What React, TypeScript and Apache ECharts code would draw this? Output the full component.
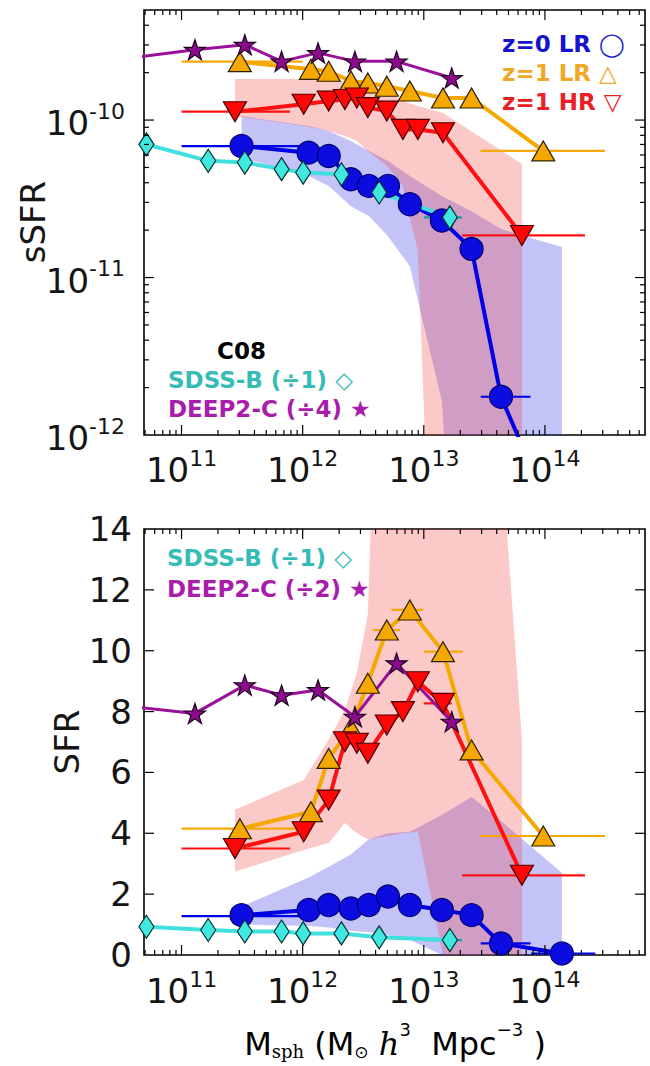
import React, { useEffect, useRef } from 'react';
import * as echarts from 'echarts';

const FONT = 'DejaVu Sans';
const SERIF = 'DejaVu Serif';

// ---- axis ranges & ticks ----
const X_MIN = 4.9e10;
const X_MAX = 6.7e14;
const SSFR_MIN = 1e-12;
const SSFR_MAX = 5e-10;
const SFR_MIN = 0;
const SFR_MAX = 14;
const xDecades = [10, 11, 12, 13, 14];
const ssfrDecades = [-12, -11, -10];
const sfrTicks = [0, 2, 4, 6, 8, 10, 12, 14];
const minorMult = [1, 2, 3, 4, 5, 6, 7, 8, 9];

// ---- z=0 LR (blue circles) ----
const lr0X = [3.13e11, 1.12e12, 1.64e12, 2.5e12, 3.52e12, 5.06e12, 7.67e12, 1.41e13, 2.48e13, 4.34e13, 1.38e14];
const lr0SSFR = [6.84e-11, 6.21e-11, 5.92e-11, 4.21e-11, 3.82e-11, 3.82e-11, 2.92e-11, 2.3e-11, 1.52e-11, 1.75e-12, 2.2e-13];
const lr0SFR = [1.31, 1.48, 1.64, 1.53, 1.64, 1.92, 1.64, 1.48, 1.31, 0.38, 0.05];
const lr0SSFRHi = [1.06e-10, 9.16e-11, 8.51e-11, 7.36e-11, 6.36e-11, 5.49e-11, 4.41e-11, 3.29e-11, 2.64e-11, 2.03e-11, 1.56e-11];
const lr0SSFRLo = [5.74e-11, 4.41e-11, 3.81e-11, 2.84e-11, 2.46e-11, 1.83e-11, 1.18e-11, 1.64e-12, 1e-15, 1e-15, 1e-15];
const lr0SFRHi = [1.59, 2.55, 2.9, 3.3, 3.8, 4.0, 4.05, 4.6, 5.2, 4.4, 2.7];
const lr0SFRLo = [1.0, 0.95, 0.9, 0.8, 0.75, 0.65, 0.5, 0, 0, 0, 0];

// ---- z=1 LR (orange up-triangles) ----
const lr1X = [3.03e11, 1.17e12, 1.64e12, 2.5e12, 3.45e12, 4.95e12, 7.67e12, 1.44e13, 2.48e13, 9.69e13];
const lr1SSFR = [2.35e-10, 2.1e-10, 2.04e-10, 1.77e-10, 1.72e-10, 1.64e-10, 1.53e-10, 1.38e-10, 1.38e-10, 6.37e-11];
const lr1SFR = [4.15, 4.71, 6.46, 7.45, 8.93, 10.68, 11.34, 9.97, 6.74, 3.91];

// ---- z=1 HR (red down-triangles) ----
const hr1X = [2.76e11, 1.02e12, 1.64e12, 2.23e12, 2.8e12, 3.45e12, 4.95e12, 6.72e12, 8.93e12, 1.44e13, 6.46e13];
const hr1SSFR = [1.13e-10, 1.26e-10, 1.32e-10, 1.35e-10, 1.38e-10, 1.2e-10, 1.14e-10, 8.72e-11, 8.72e-11, 8.31e-11, 1.85e-11];
const hr1SFR = [3.5, 4.05, 5.09, 7.01, 6.96, 6.63, 7.56, 8.0, 8.98, 8.27, 2.62];
const hr1SSFRHi = [1.82e-10, 1.82e-10, 1.79e-10, 1.77e-10, 1.72e-10, 1.64e-10, 1.53e-10, 1.32e-10, 1.23e-10, 1.11e-10, 5.26e-11];
const hr1SSFRLo = [1.06e-10, 9.16e-11, 8.51e-11, 7.91e-11, 7.36e-11, 6.36e-11, 5.11e-11, 3.81e-11, 1.47e-11, 1e-15, 1e-15];
const hr1SFRHi = [4.77, 5.75, 7.07, 8.05, 9.27, 11.2, 30, 40, 43, 43, 7.07];
const hr1SFRLo = [2.74, 3.45, 3.68, 4.34, 4.0, 3.8, 3.9, 4.0, 4.05, 0, 0];

// ---- C08 SDSS-B (cyan diamonds) ----
const sdssX = [5.13e10, 1.66e11, 3.33e11, 6.7e11, 1.01e12, 2.09e12, 4.28e12, 1.64e13];
const sdssSSFR = [7.01e-11, 5.51e-11, 5.37e-11, 4.88e-11, 4.64e-11, 4.53e-11, 3.47e-11, 2.41e-11];
const sdssSFR = [0.93, 0.82, 0.77, 0.77, 0.71, 0.71, 0.58, 0.49];

// ---- C08 DEEP2-C (purple stars) ----
const deepX = [4.0e10, 1.29e11, 3.33e11, 6.7e11, 1.34e12, 2.7e12, 5.96e12, 1.7e13];
const deepSSFR = [2.49e-10, 2.8e-10, 3.01e-10, 2.36e-10, 2.67e-10, 2.36e-10, 2.36e-10, 1.85e-10];
const deepSFR = [8.16, 7.94, 8.87, 8.54, 8.71, 7.83, 9.59, 7.67];

// ---- horizontal error bars [xLow, xHigh, y] ----
const lr0ErrTop = [[1e11, 1e12, 6.84e-11], [2.95e13, 7.6e13, 1.75e-12]];
const lr1ErrTop = [[1e11, 1e12, 2.35e-10], [2.94e13, 3.13e14, 6.37e-11]];
const hr1ErrTop = [[1e11, 7.85e11, 1.13e-10], [2.07e13, 2.14e14, 1.85e-11]];
const sdssErrTop = [[1.0e13, 2.06e13, 2.41e-11]];
const lr0ErrBot = [[1e11, 1e12, 1.28], [2.95e13, 7.6e13, 0.38], [7.7e13, 2.6e14, 0.05]];
const lr1ErrBot = [[1e11, 1e12, 4.15], [2.94e13, 3.13e14, 3.91], [3.8e12, 6.4e12, 10.68], [5.4e12, 9.9e12, 11.34], [1.0e13, 2.1e13, 9.97]];
const hr1ErrBot = [[1e11, 7.85e11, 3.5], [2.07e13, 2.14e14, 2.62], [1.0e13, 1.7e13, 8.27]];
const sdssErrBot = [[1.0e13, 2.06e13, 0.49]];

const BLUE = '#0000e6';
const ORANGE = '#f5a800';
const RED = '#ff1010';
const CYAN = '#40e0e0';
const PURPLE = '#9a109a';
const STAR = 'path://M100,0L122.5,69.1L195.1,69.1L136.3,111.8L158.8,180.9L100,138.2L41.2,180.9L63.7,111.8L4.9,69.1L77.5,69.1Z';

const pairs = (xs: number[], ys: number[]) => xs.map((x, i) => [x, ys[i]]);

const fmtPow = (v: number) => {
  const e = Math.log10(v);
  const r = Math.round(e);
  if (Math.abs(e - r) > 1e-6) return '';
  return `{b|10}{s|${r}}`;
};
const powRich = {
  b: { fontSize: 34, fontFamily: FONT, color: '#151515', lineHeight: 40, verticalAlign: 'bottom' },
  s: { fontSize: 22, fontFamily: FONT, color: '#151515', lineHeight: 24, verticalAlign: 'top' },
};

function band(xs: number[], lo: number[], hi: number[], color: string, gi: number) {
  return {
    type: 'custom', xAxisIndex: gi, yAxisIndex: gi, clip: true, silent: true, z: 1,
    data: [[xs[0], hi[0]]],
    renderItem: (_p: any, api: any) => {
      const pts: number[][] = xs.map((x, i) => api.coord([x, hi[i]]));
      for (let i = xs.length - 1; i >= 0; i--) pts.push(api.coord([xs[i], lo[i]]));
      return { type: 'polygon', shape: { points: pts }, style: { fill: color } };
    },
  };
}

function errBars(bars: number[][], color: string, gi: number) {
  return {
    type: 'custom', xAxisIndex: gi, yAxisIndex: gi, clip: true, silent: true, z: 2,
    encode: { x: [0, 1], y: 2 },
    data: bars,
    renderItem: (_p: any, api: any) => {
      const a = api.coord([api.value(0), api.value(2)]);
      const b = api.coord([api.value(1), api.value(2)]);
      return { type: 'line', shape: { x1: a[0], y1: a[1], x2: b[0], y2: b[1] }, style: { stroke: color, lineWidth: 2.2 } };
    },
  };
}

function ticks(vals: number[][], axis: 'x' | 'y', ref: number, gi: number) {
  return {
    type: 'custom', xAxisIndex: gi, yAxisIndex: gi, silent: true, z: 6,
    data: vals.map(([v, m]) => (axis === 'x' ? [v, ref, m] : [ref, v, m])),
    renderItem: (params: any, api: any) => {
      const cs = params.coordSys;
      const p = api.coord([api.value(0), api.value(1)]);
      const len = api.value(2) ? 10 : 5;
      const st = { stroke: '#000', lineWidth: 1.2 };
      const sh = axis === 'x'
        ? [
            { x1: p[0], y1: cs.y + cs.height, x2: p[0], y2: cs.y + cs.height - len },
            { x1: p[0], y1: cs.y, x2: p[0], y2: cs.y + len },
          ]
        : [
            { x1: cs.x, y1: p[1], x2: cs.x + len, y2: p[1] },
            { x1: cs.x + cs.width, y1: p[1], x2: cs.x + cs.width - len, y2: p[1] },
          ];
      return { type: 'group', children: sh.map((s) => ({ type: 'line', shape: s, style: st })) };
    },
  };
}

function logTicks(decades: number[], lo: number, hi: number) {
  const out: number[][] = [];
  decades.forEach((d) => minorMult.forEach((k) => {
    const v = k * Math.pow(10, d);
    if (v > lo * 1.0001 && v < hi * 0.9999) out.push([v, k === 1 ? 1 : 0]);
  }));
  return out;
}

function lineSeries(xs: number[], ys: number[], gi: number, o: any) {
  return {
    type: 'line', xAxisIndex: gi, yAxisIndex: gi, data: pairs(xs, ys), z: 3, clip: true,
    symbol: o.symbol, symbolSize: o.size, symbolRotate: o.rotate || 0, showAllSymbol: true,
    lineStyle: { color: o.line, width: o.width },
    itemStyle: { color: o.fill, borderColor: o.edge, borderWidth: 1.2 },
    emphasis: { disabled: true },
  };
}

const blueOpt = { symbol: 'circle', size: 23, line: BLUE, width: 4, fill: '#0c0ce0', edge: '#000070' };
const orangeOpt = { symbol: 'triangle', size: [23, 20], line: ORANGE, width: 4, fill: '#f5a800', edge: '#302000' };
const redOpt = { symbol: 'triangle', rotate: 180, size: [23, 20], line: RED, width: 4, fill: '#ff0505', edge: '#4a0000' };
const cyanOpt = { symbol: 'diamond', size: [15, 23], line: CYAN, width: 4, fill: '#40e8e0', edge: '#003030' };
const purpleOpt = { symbol: STAR, size: [21, 20], line: PURPLE, width: 3, fill: '#8c0a8c', edge: '#200020' };

function panelSeries(gi: number, top: boolean) {
  const s: any[] = [];
  if (top) {
    s.push(band(lr0X, lr0SSFRLo, lr0SSFRHi, 'rgba(40,40,230,0.28)', gi));
    s.push(band(hr1X, hr1SSFRLo, hr1SSFRHi, 'rgba(245,60,60,0.28)', gi));
    s.push(errBars(lr0ErrTop, BLUE, gi));
    s.push(errBars(lr1ErrTop, ORANGE, gi));
    s.push(errBars(hr1ErrTop, RED, gi));
    s.push(errBars(sdssErrTop, '#10a0a0', gi));
    s.push(lineSeries(lr0X, lr0SSFR, gi, blueOpt));
    s.push(lineSeries(lr1X, lr1SSFR, gi, orangeOpt));
    s.push(lineSeries(hr1X, hr1SSFR, gi, redOpt));
    s.push(lineSeries(sdssX, sdssSSFR, gi, cyanOpt));
    s.push(lineSeries(deepX, deepSSFR, gi, purpleOpt));
    s.push(ticks(logTicks(xDecades, X_MIN, X_MAX), 'x', 1e-11, gi));
    s.push(ticks(logTicks(ssfrDecades, SSFR_MIN, SSFR_MAX), 'y', 1e12, gi));
  } else {
    s.push(band(lr0X, lr0SFRLo, lr0SFRHi, 'rgba(40,40,230,0.28)', gi));
    s.push(band(hr1X, hr1SFRLo, hr1SFRHi, 'rgba(245,60,60,0.28)', gi));
    s.push(errBars(lr0ErrBot, BLUE, gi));
    s.push(errBars(lr1ErrBot, ORANGE, gi));
    s.push(errBars(hr1ErrBot, RED, gi));
    s.push(errBars(sdssErrBot, '#10a0a0', gi));
    s.push(lineSeries(lr0X, lr0SFR, gi, blueOpt));
    s.push(lineSeries(lr1X, lr1SFR, gi, orangeOpt));
    s.push(lineSeries(hr1X, hr1SFR, gi, redOpt));
    s.push(lineSeries(sdssX, sdssSFR, gi, cyanOpt));
    s.push(lineSeries(deepX, deepSFR, gi, purpleOpt));
    s.push(ticks(logTicks(xDecades, X_MIN, X_MAX), 'x', 5, gi));
    s.push(ticks(sfrTicks.filter((t) => t > SFR_MIN && t < SFR_MAX).map((t) => [t, 1]), 'y', 1e12, gi));
  }
  return s;
}

const txt = (x: number, y: number, text: string, color: string, size: number, extra: any = {}) => ({
  type: 'text', x, y, z: 50, silent: true,
  style: { text, fill: color, fontSize: size, fontFamily: FONT, textVerticalAlign: 'middle', ...extra },
});
const legendTxt = (x: number, y: number, text: string, color: string) =>
  txt(x, y, text, color, 23, { fontWeight: 'bold' });

const xTitleRich = {
  m: { fontSize: 32, fontFamily: FONT, color: '#151515', lineHeight: 40, verticalAlign: 'bottom' },
  sub: { fontSize: 18, fontFamily: SERIF, color: '#151515', lineHeight: 20, verticalAlign: 'bottom' },
  odot: { fontSize: 17, fontFamily: FONT, color: '#151515', lineHeight: 20, verticalAlign: 'bottom' },
  it: { fontSize: 32, fontFamily: SERIF, fontStyle: 'italic', color: '#151515', lineHeight: 40, verticalAlign: 'bottom' },
  sup: { fontSize: 18, fontFamily: FONT, color: '#151515', lineHeight: 20, verticalAlign: 'top' },
};

const option: any = {
  animation: false,
  backgroundColor: '#ffffff',
  grid: [
    { left: 144, top: 10, width: 501, height: 425, show: true, borderColor: '#000', borderWidth: 1.6, backgroundColor: 'transparent' },
    { left: 144, top: 529, width: 501, height: 426, show: true, borderColor: '#000', borderWidth: 1.6, backgroundColor: 'transparent' },
  ],
  xAxis: [0, 1].map((gi) => ({
    gridIndex: gi, type: 'log', logBase: 10, min: X_MIN, max: X_MAX,
    axisLine: { show: false }, axisTick: { show: false }, splitLine: { show: false },
    axisLabel: { formatter: fmtPow, rich: powRich, margin: gi === 0 ? 12 : 13, interval: 0, showMinLabel: true, showMaxLabel: true },
  })),
  yAxis: [
    {
      gridIndex: 0, type: 'log', logBase: 10, min: SSFR_MIN, max: SSFR_MAX,
      axisLine: { show: false }, axisTick: { show: false }, splitLine: { show: false },
      axisLabel: { formatter: fmtPow, rich: powRich, margin: 19, interval: 0, showMinLabel: true },
    },
    {
      gridIndex: 1, type: 'value', min: SFR_MIN, max: SFR_MAX, interval: 2,
      axisLine: { show: false }, axisTick: { show: false }, splitLine: { show: false },
      axisLabel: { fontSize: 34, fontFamily: FONT, color: '#151515', margin: 12, showMinLabel: true, showMaxLabel: true },
    },
  ],
  series: [...panelSeries(0, true), ...panelSeries(1, false)],
  graphic: [
    legendTxt(502, 44, 'z=0 LR ◯', '#1414d0'),
    legendTxt(502, 73, 'z=1 LR △', '#f0a828'),
    legendTxt(502, 102, 'z=1 HR ▽', '#ea2024'),
    legendTxt(217, 351, 'C08', '#000'),
    legendTxt(168, 380, 'SDSS-B (÷1) ◇', '#36bcb6'),
    legendTxt(168, 409, 'DEEP2-C (÷4) ★', '#aa1caa'),
    legendTxt(167, 558, 'SDSS-B (÷1) ◇', '#36bcb6'),
    legendTxt(167, 589, 'DEEP2-C (÷2) ★', '#aa1caa'),
    { ...txt(33, 222, 'sSFR', '#151515', 34, { textAlign: 'center' }), rotation: Math.PI / 2 },
    { ...txt(67, 742, 'SFR', '#151515', 34, { textAlign: 'center' }), rotation: Math.PI / 2 },
    {
      type: 'text', x: 395, y: 1040, z: 50, silent: true,
      style: {
        text: '{m|M}{sub|sph}{m| (M}{odot|⊙}{it| h}{sup|3}{m|  Mpc}{sup|−3}{m| )}',
        rich: xTitleRich, textAlign: 'center', textVerticalAlign: 'middle',
      },
    },
  ],
};

export default function App() {
  const ref = useRef<HTMLDivElement>(null);
  useEffect(() => {
    const chart = echarts.init(ref.current!, null, { renderer: 'svg' });
    chart.setOption(option);
    return () => chart.dispose();
  }, []);
  return (
    <div
      ref={ref}
      style={{ position: 'fixed', left: 0, top: 0, width: 650, height: 1066, background: '#fff' }}
    />
  );
}
